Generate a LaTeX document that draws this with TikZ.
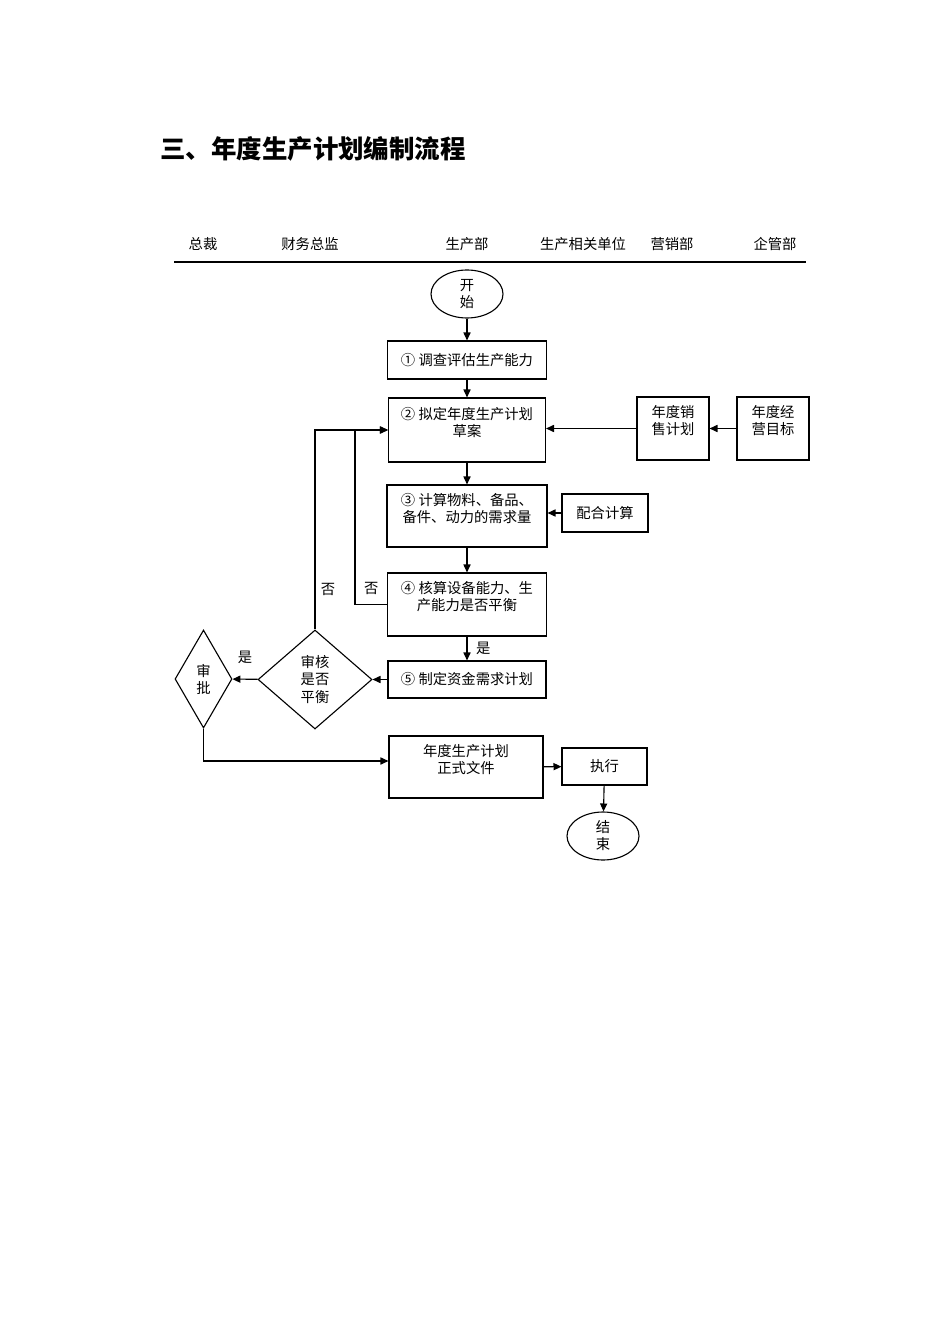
\documentclass[tikz,border=0pt]{standalone}
\usepackage{fontspec}
\setmainfont{Noto Sans CJK SC}
\usetikzlibrary{shapes,arrows}
\usetikzlibrary{arrows.meta}
\newcommand{\pxu}{0.0221cm}
\tikzset{
  lane/.style={font=\fontsize{9}{10.7}\selectfont},
  box/.style={draw, rectangle, line width=0.7pt, align=center, inner sep=0pt, lane},
  oval/.style={draw, ellipse, line width=0.7pt, align=center, inner sep=0pt, lane,
    minimum width=72*\pxu, minimum height=48*\pxu},
  choice/.style={draw, diamond, line width=0.7pt, align=center, inner sep=0pt, lane},
  flow/.style={-{Triangle[length=5pt,width=4.5pt]}, line width=0.7pt},
}
\begin{document}
\begin{tikzpicture}[x=\pxu, y=-\pxu]
      \useasboundingbox (0,0) rectangle (950,1344);

      \node[anchor=west, inner sep=0pt, font=\fontsize{16}{19}\selectfont\bfseries] (title) at (160,149) {三、年度生产计划编制流程};

      % header
      \node[lane] (h1) at (203,244) {总裁};
      \node[lane] (h2) at (310,244) {财务总监};
      \node[lane] (h3) at (467,244) {生产部};
      \node[lane] (h4) at (583,244) {生产相关单位};
      \node[lane] (h5) at (672,244) {营销部};
      \node[lane] (h6) at (775,244) {企管部};
      \coordinate (rulel) at (174,262);
      \coordinate (ruler) at (806,262);
      \draw[line width=0.7pt] (rulel) -- (ruler);

      % main column
      \node[oval] (start) at (467,294) {开\\始};
      \node[box, minimum width=159*\pxu, minimum height=38*\pxu] (survey) at (467,360) {① 调查评估生产能力};
      \node[box, minimum width=157*\pxu, minimum height=64*\pxu] (draft) at (467,430) {② 拟定年度生产计划\\草案\\\mbox{}};
      \node[box, minimum width=160*\pxu, minimum height=62*\pxu] (demand) at (467,516) {③ 计算物料、备品、\\备件、动力的需求量\\\mbox{}};
      \node[box, minimum width=159*\pxu, minimum height=63*\pxu] (balance) at (467,604.5) {④ 核算设备能力、生\\产能力是否平衡\\\mbox{}};
      \node[box, minimum width=158*\pxu, minimum height=37*\pxu] (fund) at (467,679.5) {⑤ 制定资金需求计划};
      \node[box, minimum width=154*\pxu, minimum height=62*\pxu] (final) at (466,767) {年度生产计划\\正式文件\\\mbox{}};

      % side boxes
      \node[box, minimum width=72*\pxu, minimum height=63*\pxu] (sales) at (673,428.5) {年度销\\售计划\\\mbox{}};
      \node[box, minimum width=72*\pxu, minimum height=63*\pxu] (target) at (773,428.5) {年度经\\营目标\\\mbox{}};
      \node[box, minimum width=86*\pxu, minimum height=38*\pxu] (calc) at (605,513) {配合计算};
      \node[box, minimum width=85*\pxu, minimum height=37*\pxu] (exec) at (604.5,766.5) {执行};
      \node[oval] (stop) at (603,836) {结\\束};

      % decisions
      \node[choice, minimum width=114*\pxu, minimum height=99*\pxu] (check) at (315,679.5) {审核\\是否\\平衡};
      \node[choice, minimum width=57*\pxu, minimum height=98*\pxu] (approve) at (203.5,679) {审\\批};

      \coordinate (back) at (355,604.5);

      \path[flow] (start) edge (survey)
                  (survey) edge (draft)
                  (draft) edge (demand)
                  (demand) edge (balance)
                  (balance) edge node[right, lane, xshift=2pt] {是} (fund)
                  (fund) edge (check)
                  (check) edge node[above, lane, yshift=6pt] {是} (approve)
                  (target) edge (sales)
                  (sales) edge (sales -| draft.east)
                  (calc) edge (calc -| demand.east)
                  (final) edge (exec)
                  (exec) edge (stop);

      \draw[flow] (check.north) |- node[pos=0.1, right, lane] {否} (draft.west);
      \draw[flow] (balance.west) -- (back) |- node[pos=0.045, right, lane, xshift=2pt] {否} (draft.west);
      \draw[flow] (approve.south) |- ([yshift=6*\pxu]final.west);
\end{tikzpicture}
\end{document}
